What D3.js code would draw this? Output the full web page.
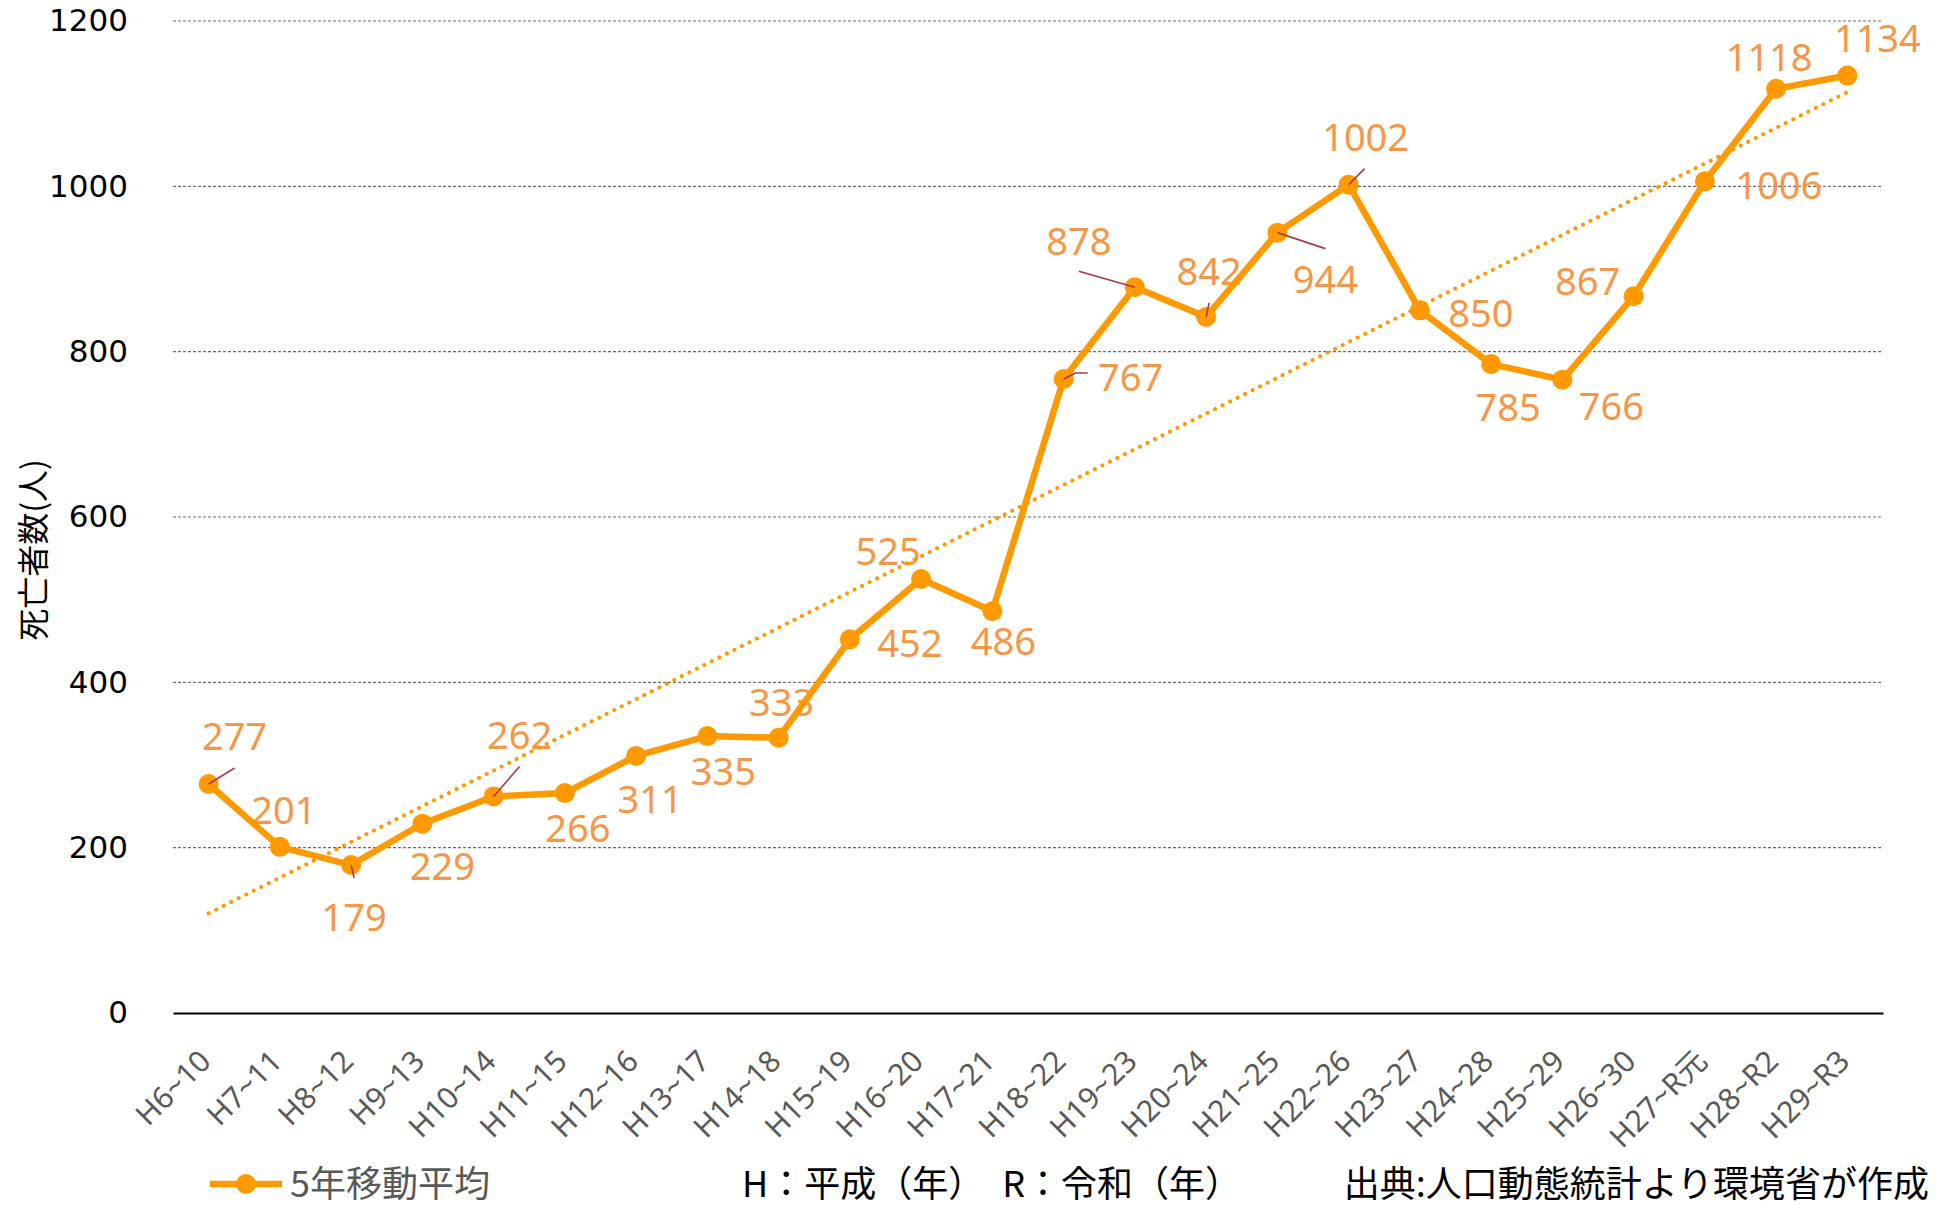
<!DOCTYPE html>
<html>
<head>
<meta charset="utf-8">
<script src="https://d3js.org/d3.v7.min.js"></script>
<title>死亡者数 5年移動平均</title>
<style>
  body { margin: 0; background: #fff; }
  svg text { font-family: "Noto Sans", "Noto Sans CJK JP", sans-serif; }
</style>
</head>
<body>
<svg id="chart" width="1944" height="1208"></svg>
<script>
// periods (H = 平成, R = 令和)
const periods = ["H6~10", "H7~11", "H8~12", "H9~13", "H10~14", "H11~15", "H12~16", "H13~17",
  "H14~18", "H15~19", "H16~20", "H17~21", "H18~22", "H19~23", "H20~24", "H21~25", "H22~26",
  "H23~27", "H24~28", "H25~29", "H26~30", "H27~R元", "H28~R2", "H29~R3"];
// 5-year moving average of deaths
const deaths = [277, 201, 179, 229, 262, 266, 311, 335, 333, 452, 525, 486, 767, 878, 842,
  944, 1002, 850, 785, 766, 867, 1006, 1118, 1134];
const yTicks = [0, 200, 400, 600, 800, 1000, 1200];

// label placement, relative to each point (layout only)
const labelOffsets = [[26,-49],[4,-38],[3,51],[20,41],[26,-62],[13,34],[14,42],[16,34],
  [3,-37],[60,3],[-33,-29],[11,29],[67,-3],[-56,-47],[3,-47],[48,45],[17,-49],[61,2],
  [17,42],[49,25],[-46,-16],[74,3],[-7,-33],[30,-39]];
// leader lines: index -> polyline relative to point
const leaders = {0: [[0,0],[26,-16]], 2: [[0,0],[3,13]], 4: [[0,0],[26,-30]],
  12: [[0,0],[12,-6],[24,-6]], 13: [[0,0],[-56,-16]], 14: [[0,0],[3,-14]],
  15: [[0,0],[48,16]], 16: [[0,0],[16,-16]]};

const svg = d3.select("#chart");
const plotL = 173, plotR = 1883, plotT = 21, plotB = 1013;

const x = d3.scaleBand().domain(periods).range([plotL, plotR]);
const y = d3.scaleLinear().domain([0, 1200]).range([plotB, plotT]);
const cx = (d, i) => x(periods[i]) + x.bandwidth() / 2;

// gridlines
svg.append("g").selectAll("line")
  .data(yTicks.filter(t => t > 0))
  .enter().append("line")
  .attr("x1", plotL).attr("x2", plotR)
  .attr("y1", d => y(d)).attr("y2", d => y(d))
  .attr("stroke", "#6b6b6b").attr("stroke-width", 1.2)
  .attr("stroke-dasharray", "3 2");

// y axis labels
const yAxis = svg.append("g")
  .attr("transform", `translate(${plotL},0)`)
  .call(d3.axisLeft(y).tickValues(yTicks).tickFormat(d3.format("d")).tickSize(0).tickPadding(45));
yAxis.select(".domain").remove();
yAxis.selectAll("text").attr("font-size", 31).attr("fill", "#000")
  .style("font-family", "'DejaVu Sans', sans-serif");

// x axis
const xAxis = svg.append("g")
  .attr("transform", `translate(0,${plotB})`)
  .call(d3.axisBottom(x).tickSize(0).tickPadding(0));
xAxis.select(".domain").attr("stroke", "#000").attr("stroke-width", 2);
xAxis.selectAll("text")
  .attr("font-size", 30).attr("fill", "#595959")
  .attr("text-anchor", "end")
  .attr("dy", 0).attr("y", 0)
  .attr("transform", "translate(4,50) rotate(-45)");

// y axis title
svg.append("text")
  .attr("transform", "translate(31,550) rotate(-90)")
  .attr("text-anchor", "middle").attr("dominant-baseline", "central")
  .attr("font-size", 32).attr("fill", "#000")
  .style("font-family", "'Noto Sans CJK JP', sans-serif")
  .text("死亡者数(人)");

// data labels
svg.append("g").selectAll("text")
  .data(deaths)
  .enter().append("text")
  .attr("x", (d, i) => cx(d, i) + labelOffsets[i][0])
  .attr("y", (d, i) => y(d) + labelOffsets[i][1])
  .attr("text-anchor", "middle").attr("dominant-baseline", "central")
  .attr("font-size", 38).attr("fill", "#F79646")
  .text(d => d);

// linear trend (least squares)
const n = deaths.length;
const mx = d3.mean(deaths, (d, i) => i), my = d3.mean(deaths);
const slope = d3.sum(deaths, (d, i) => (i - mx) * (d - my)) / d3.sum(deaths, (d, i) => (i - mx) * (i - mx));
const icpt = my - slope * mx;
svg.append("line")
  .attr("x1", cx(0, 0)).attr("y1", y(icpt))
  .attr("x2", cx(0, n - 1)).attr("y2", y(icpt + slope * (n - 1)))
  .attr("stroke", "#FF9900").attr("stroke-width", 4)
  .attr("stroke-linecap", "round").attr("stroke-dasharray", "0.1 8.3");

// series line
svg.append("path")
  .datum(deaths)
  .attr("fill", "none").attr("stroke", "#FF9900").attr("stroke-width", 6.5)
  .attr("stroke-linejoin", "round")
  .attr("d", d3.line().x((d, i) => cx(d, i)).y(d => y(d)));

svg.append("g").selectAll("circle")
  .data(deaths)
  .enter().append("circle")
  .attr("cx", (d, i) => cx(d, i)).attr("cy", d => y(d)).attr("r", 10)
  .attr("fill", "#FF9900");

// leader lines
svg.append("g").selectAll("path")
  .data(Object.keys(leaders).map(Number))
  .enter().append("path")
  .attr("fill", "none").attr("stroke", "#A23B4E").attr("stroke-width", 1.6)
  .attr("d", i => d3.line()(leaders[i].map(p => [cx(0, i) + p[0], y(deaths[i]) + p[1]])));

// legend
const lg = svg.append("g");
lg.append("line").attr("x1", 210).attr("x2", 282).attr("y1", 1184).attr("y2", 1184)
  .attr("stroke", "#FF9900").attr("stroke-width", 6.5);
lg.append("circle").attr("cx", 246).attr("cy", 1184).attr("r", 10).attr("fill", "#FF9900");
lg.append("text").attr("x", 290).attr("y", 1181).attr("dominant-baseline", "central")
  .attr("font-size", 36).attr("fill", "#595959")
  .style("font-family", "'Noto Sans CJK JP', sans-serif")
  .text("5年移動平均");

// notes
svg.append("text").attr("x", 742).attr("y", 1181).attr("dominant-baseline", "central")
  .attr("font-size", 36).attr("fill", "#000")
  .style("font-family", "'Noto Sans CJK JP', sans-serif")
  .text("H：平成（年）　R：令和（年）");
svg.append("text").attr("x", 1929).attr("y", 1181).attr("dominant-baseline", "central")
  .attr("text-anchor", "end")
  .attr("font-size", 36).attr("fill", "#000")
  .style("font-family", "'Noto Sans CJK JP', sans-serif")
  .text("出典:人口動態統計より環境省が作成");
</script>
</body>
</html>
